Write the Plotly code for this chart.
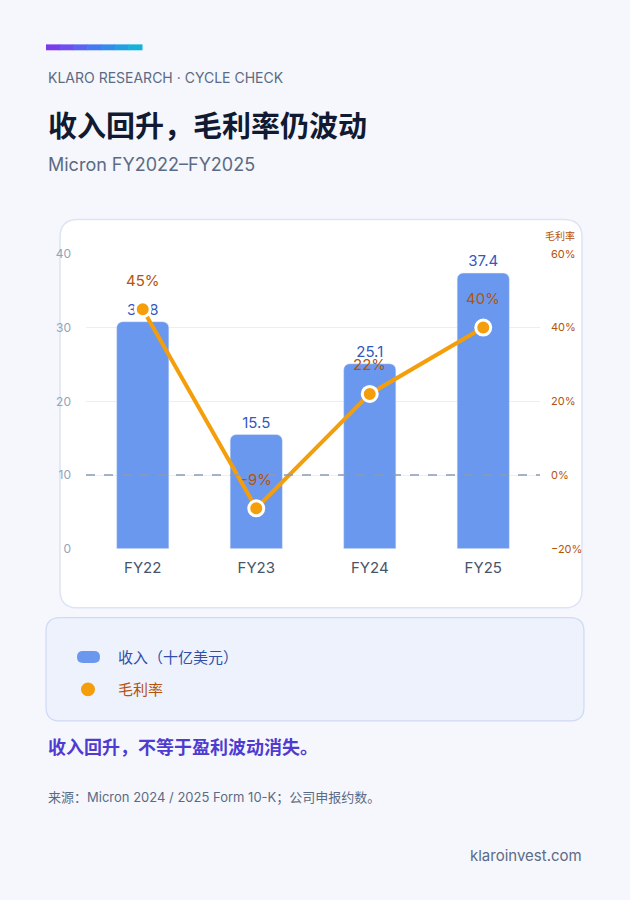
import plotly.graph_objects as go

years = ["FY22", "FY23", "FY24", "FY25"]
revenue = [30.8, 15.5, 25.1, 37.4]
margin = [45, -9, 22, 40]

W, H = 630, 900
FONT = "Inter, Noto Sans CJK SC, sans-serif"


def px(x):
    return x / W


def py(y):
    return 1 - y / H


def rounded(x0, y0, x1, y1, r):
    # rounded rectangle path in paper coords, pixel inputs
    p = [f"M{px(x0 + r)},{py(y0)}", f"L{px(x1 - r)},{py(y0)}", f"Q{px(x1)},{py(y0)} {px(x1)},{py(y0 + r)}",
         f"L{px(x1)},{py(y1 - r)}", f"Q{px(x1)},{py(y1)} {px(x1 - r)},{py(y1)}",
         f"L{px(x0 + r)},{py(y1)}", f"Q{px(x0)},{py(y1)} {px(x0)},{py(y1 - r)}",
         f"L{px(x0)},{py(y0 + r)}", f"Q{px(x0)},{py(y0)} {px(x0 + r)},{py(y0)}", "Z"]
    return " ".join(p)


fig = go.Figure()

fig.add_trace(go.Bar(
    x=years, y=revenue, width=0.46, marker=dict(color="#6a98ee", cornerradius=6),
    text=[f"{v:.1f}" for v in revenue], textposition="outside", cliponaxis=False,
    textfont=dict(color="#3558c0", size=15, family=FONT), name="收入（十亿美元）",
    showlegend=False,
))
fig.add_trace(go.Scatter(
    x=years, y=margin, yaxis="y2", mode="lines+markers", cliponaxis=False,
    line=dict(color="#f59e0b", width=4),
    marker=dict(size=15, color="#f59e0b", line=dict(color="white", width=3)),
    name="毛利率", showlegend=False,
))

annotations = []
for yr, m in zip(years, margin):
    annotations.append(dict(x=yr, y=m, xref="x", yref="y2", text=f"{m}%", showarrow=False,
                            yshift=29, font=dict(color="#b45309", size=15, family=FONT)))

shapes = [
    dict(type="path", xref="paper", yref="paper", path=rounded(60, 215, 582, 610, 18),
         fillcolor="white", line=dict(color="#dde4f5", width=1.5), layer="below"),
    dict(type="path", xref="paper", yref="paper", path=rounded(46, 620, 584, 725, 14),
         fillcolor="#edf2fd", line=dict(color="#cfdaf5", width=1.2), layer="below"),
    dict(type="path", xref="paper", yref="paper", path=rounded(77, 654, 100, 666, 6),
         fillcolor="#6a98ee", line=dict(width=0)),
    dict(type="circle", xref="paper", yref="paper", x0=px(81), x1=px(95), y0=py(700), y1=py(686),
         fillcolor="#f59e0b", line=dict(width=0)),
    dict(type="line", xref="x domain", yref="y2", x0=0, x1=1, y0=0, y1=0,
         line=dict(color="#8a9ab5", width=1.5, dash="dash")),
]

grad = ["#7c3aed", "#6d4ef0", "#5a63f2", "#4678f2", "#338cec", "#22a0e2", "#14b2d8"]
seg = (142 - 46) / len(grad)
for i, c in enumerate(grad):
    shapes.append(dict(type="rect", xref="paper", yref="paper", x0=px(46 + i * seg), x1=px(46 + (i + 1) * seg + 0.5),
                       y0=py(43), y1=py(37), fillcolor=c, line=dict(width=0)))

texts = [
    (46, 71, "KLARO RESEARCH · CYCLE CHECK", 14, "#5b6b85", "left"),
    (46, 121, "<b>收入回升，毛利率仍波动</b>", 29, "#111a33", "left"),
    (46, 159, "Micron FY2022–FY2025", 18, "#5b6b85", "left"),
    (577, 232, "毛利率", 10, "#b45309", "right"),
    (116, 660, "收入（十亿美元）", 15, "#2f4fa8", "left"),
    (116, 693, "毛利率", 15, "#b45309", "left"),
    (46, 752, "<b>收入回升，不等于盈利波动消失。</b>", 18, "#4f3bd0", "left"),
    (46, 803, "来源：Micron 2024 / 2025 Form 10-K；公司申报约数。", 13, "#5b6b85", "left"),
    (584, 862, "klaroinvest.com", 15, "#5b6b85", "right"),
]
for x, y, t, s, c, a in texts:
    annotations.append(dict(xref="paper", yref="paper", x=px(x), y=py(y), text=t, showarrow=False,
                            xanchor=a, yanchor="middle", font=dict(size=s, color=c, family=FONT)))

fig.update_layout(
    width=W, height=H, margin=dict(l=0, r=0, t=0, b=0),
    paper_bgcolor="#f5f7fc", plot_bgcolor="rgba(0,0,0,0)",
    font=dict(family=FONT),
    shapes=shapes, annotations=annotations,
    xaxis=dict(domain=[px(86), px(540)], showgrid=False, zeroline=False, showline=False,
               tickfont=dict(size=15, color="#475569"), ticklabelstandoff=8),
    yaxis=dict(domain=[py(550), py(250)], range=[0, 40], dtick=10, gridcolor="#e8eefa",
               zeroline=False, tickfont=dict(size=12, color="#94a3b8"), ticklabelstandoff=14),
    yaxis2=dict(overlaying="y", side="right", range=[-20, 60], dtick=20, ticksuffix="%",
                showgrid=False, zeroline=False, tickfont=dict(size=11, color="#b45309"),
                ticklabelstandoff=10),
    bargap=0.5,
)

fig.write_html("out.html", config={"displayModeBar": False},
               post_script="document.body.style.margin='0';")
